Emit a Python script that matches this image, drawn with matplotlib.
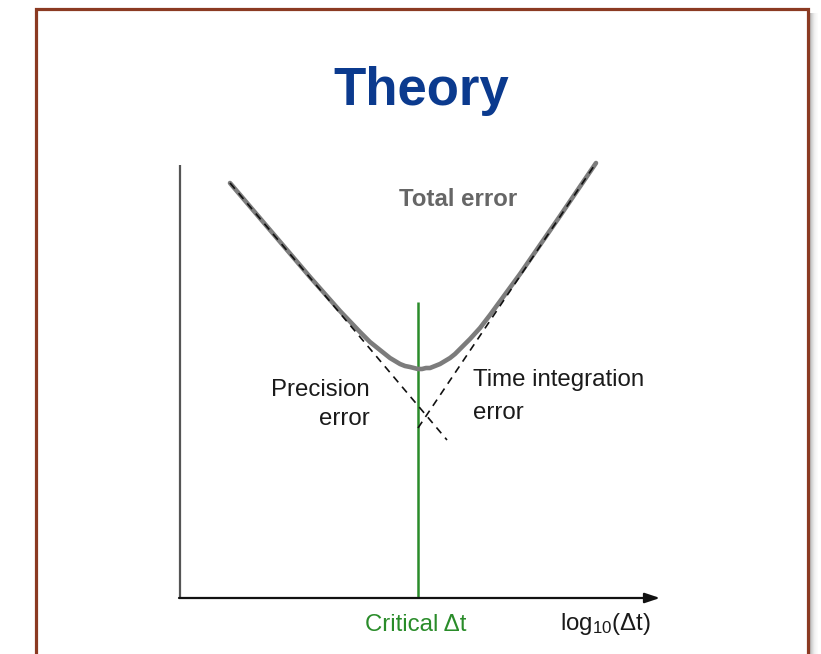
import matplotlib
matplotlib.use("Agg")
import matplotlib.pyplot as plt
from matplotlib.patches import Rectangle

plt.rcParams["font.family"] = ["Liberation Sans", "DejaVu Sans"]
plt.rcParams["mathtext.fontset"] = "custom"
plt.rcParams["mathtext.rm"] = "Liberation Sans"
plt.rcParams["mathtext.it"] = "Liberation Sans:italic"

# Schematic error curves (x: log10 of time step, y: log of error, arbitrary units)
precision_x = [0.50, 2.67]
precision_y = [4.15, 1.58]

time_int_x = [2.38, 4.16]
time_int_y = [1.70, 4.35]

total_x = [0.50, 0.90, 1.30, 1.60, 1.80, 1.90, 1.95, 2.00, 2.05, 2.10, 2.15,
           2.20, 2.25, 2.30, 2.34, 2.38, 2.42, 2.46, 2.50, 2.55, 2.60, 2.65,
           2.70, 2.75, 2.80, 2.90, 3.00, 3.10, 3.40, 3.80, 4.16]
total_y = [4.15, 3.68, 3.21, 2.87, 2.66, 2.56, 2.52, 2.48, 2.44, 2.40, 2.37,
           2.34, 2.32, 2.31, 2.30, 2.29, 2.29, 2.30, 2.30, 2.32, 2.34, 2.37,
           2.40, 2.44, 2.49, 2.59, 2.70, 2.83, 3.24, 3.82, 4.35]

critical_dt = 2.38
critical_top = 2.96

y_axis_top = 4.33
x_axis_end = 4.80

W, H = 821, 654
fig = plt.figure(figsize=(W / 100, H / 100), dpi=100)
fig.patch.set_facecolor("white")

# Slide frame in pixel coordinates
bg = fig.add_axes([0, 0, 1, 1])
bg.set_xlim(0, W)
bg.set_ylim(H, 0)
bg.axis("off")

# soft drop shadow on the right edge
for i, a in enumerate([0.42, 0.34, 0.26, 0.19, 0.13, 0.08, 0.05, 0.03, 0.015]):
    bg.add_patch(Rectangle((809 + i, 13), 1, H, facecolor="#3a3a3a",
                           edgecolor="none", alpha=a))
bg.add_patch(Rectangle((36, 9), 772, H + 20, facecolor="white",
                       edgecolor="#8B3A22", lw=2.3))

bg.text(421, 105, "Theory", ha="center", va="baseline", fontsize=38,
        fontweight="bold", color="#0B3A8E")

# Diagram axes: 100 px per data unit, origin at the axis corner
ax = fig.add_axes([180 / W, 56 / H, 500 / W, 440 / H])
ax.set_xlim(0, 5)
ax.set_ylim(0, 4.4)
ax.axis("off")

ax.plot([0, 0], [0, y_axis_top], color="#555555", lw=1.6,
        solid_capstyle="butt", clip_on=False)
ax.annotate("", xy=(x_axis_end, 0), xytext=(-0.01, 0),
            arrowprops=dict(arrowstyle="-|>,head_length=0.9,head_width=0.3",
                            color="#111111", lw=1.6, shrinkA=0, shrinkB=0),
            annotation_clip=False)

ax.plot([critical_dt, critical_dt], [0, critical_top], color="#2A8C2A",
        lw=1.8, solid_capstyle="butt", zorder=2)

ax.plot(total_x, total_y, color="#7C7C7C", lw=3.3, solid_capstyle="round",
        solid_joinstyle="round", zorder=3, antialiased=True)

ax.plot(precision_x, precision_y, color="#111111", lw=1.2,
        linestyle=(0, (4.5, 3.5)), zorder=4)
ax.plot(time_int_x, time_int_y, color="#111111", lw=1.2,
        linestyle=(0, (4.5, 3.5)), zorder=4)

ax.text(2.78, 3.92, "Total error", ha="center", va="baseline", fontsize=17.3,
        fontweight="bold", color="#666666")
ax.text(1.90, 2.02, "Precision", ha="right", va="baseline", fontsize=17.3,
        color="#1a1a1a")
ax.text(1.90, 1.73, "error", ha="right", va="baseline", fontsize=17.3,
        color="#1a1a1a")
ax.text(2.93, 2.12, "Time integration", ha="left", va="baseline",
        fontsize=17.3, color="#1a1a1a")
ax.text(2.93, 1.79, "error", ha="left", va="baseline", fontsize=17.3,
        color="#1a1a1a")
ax.text(critical_dt - 0.02, -0.33, "Critical \u0394t", ha="center",
        va="baseline", fontsize=17.3, color="#2A8C2A")
ax.text(3.80, -0.32, r"$\mathregular{log_{10}(\Delta t)}$", ha="left",
        va="baseline", fontsize=17.3, color="#1a1a1a")

fig.savefig("out.png", dpi=100, facecolor="white")
